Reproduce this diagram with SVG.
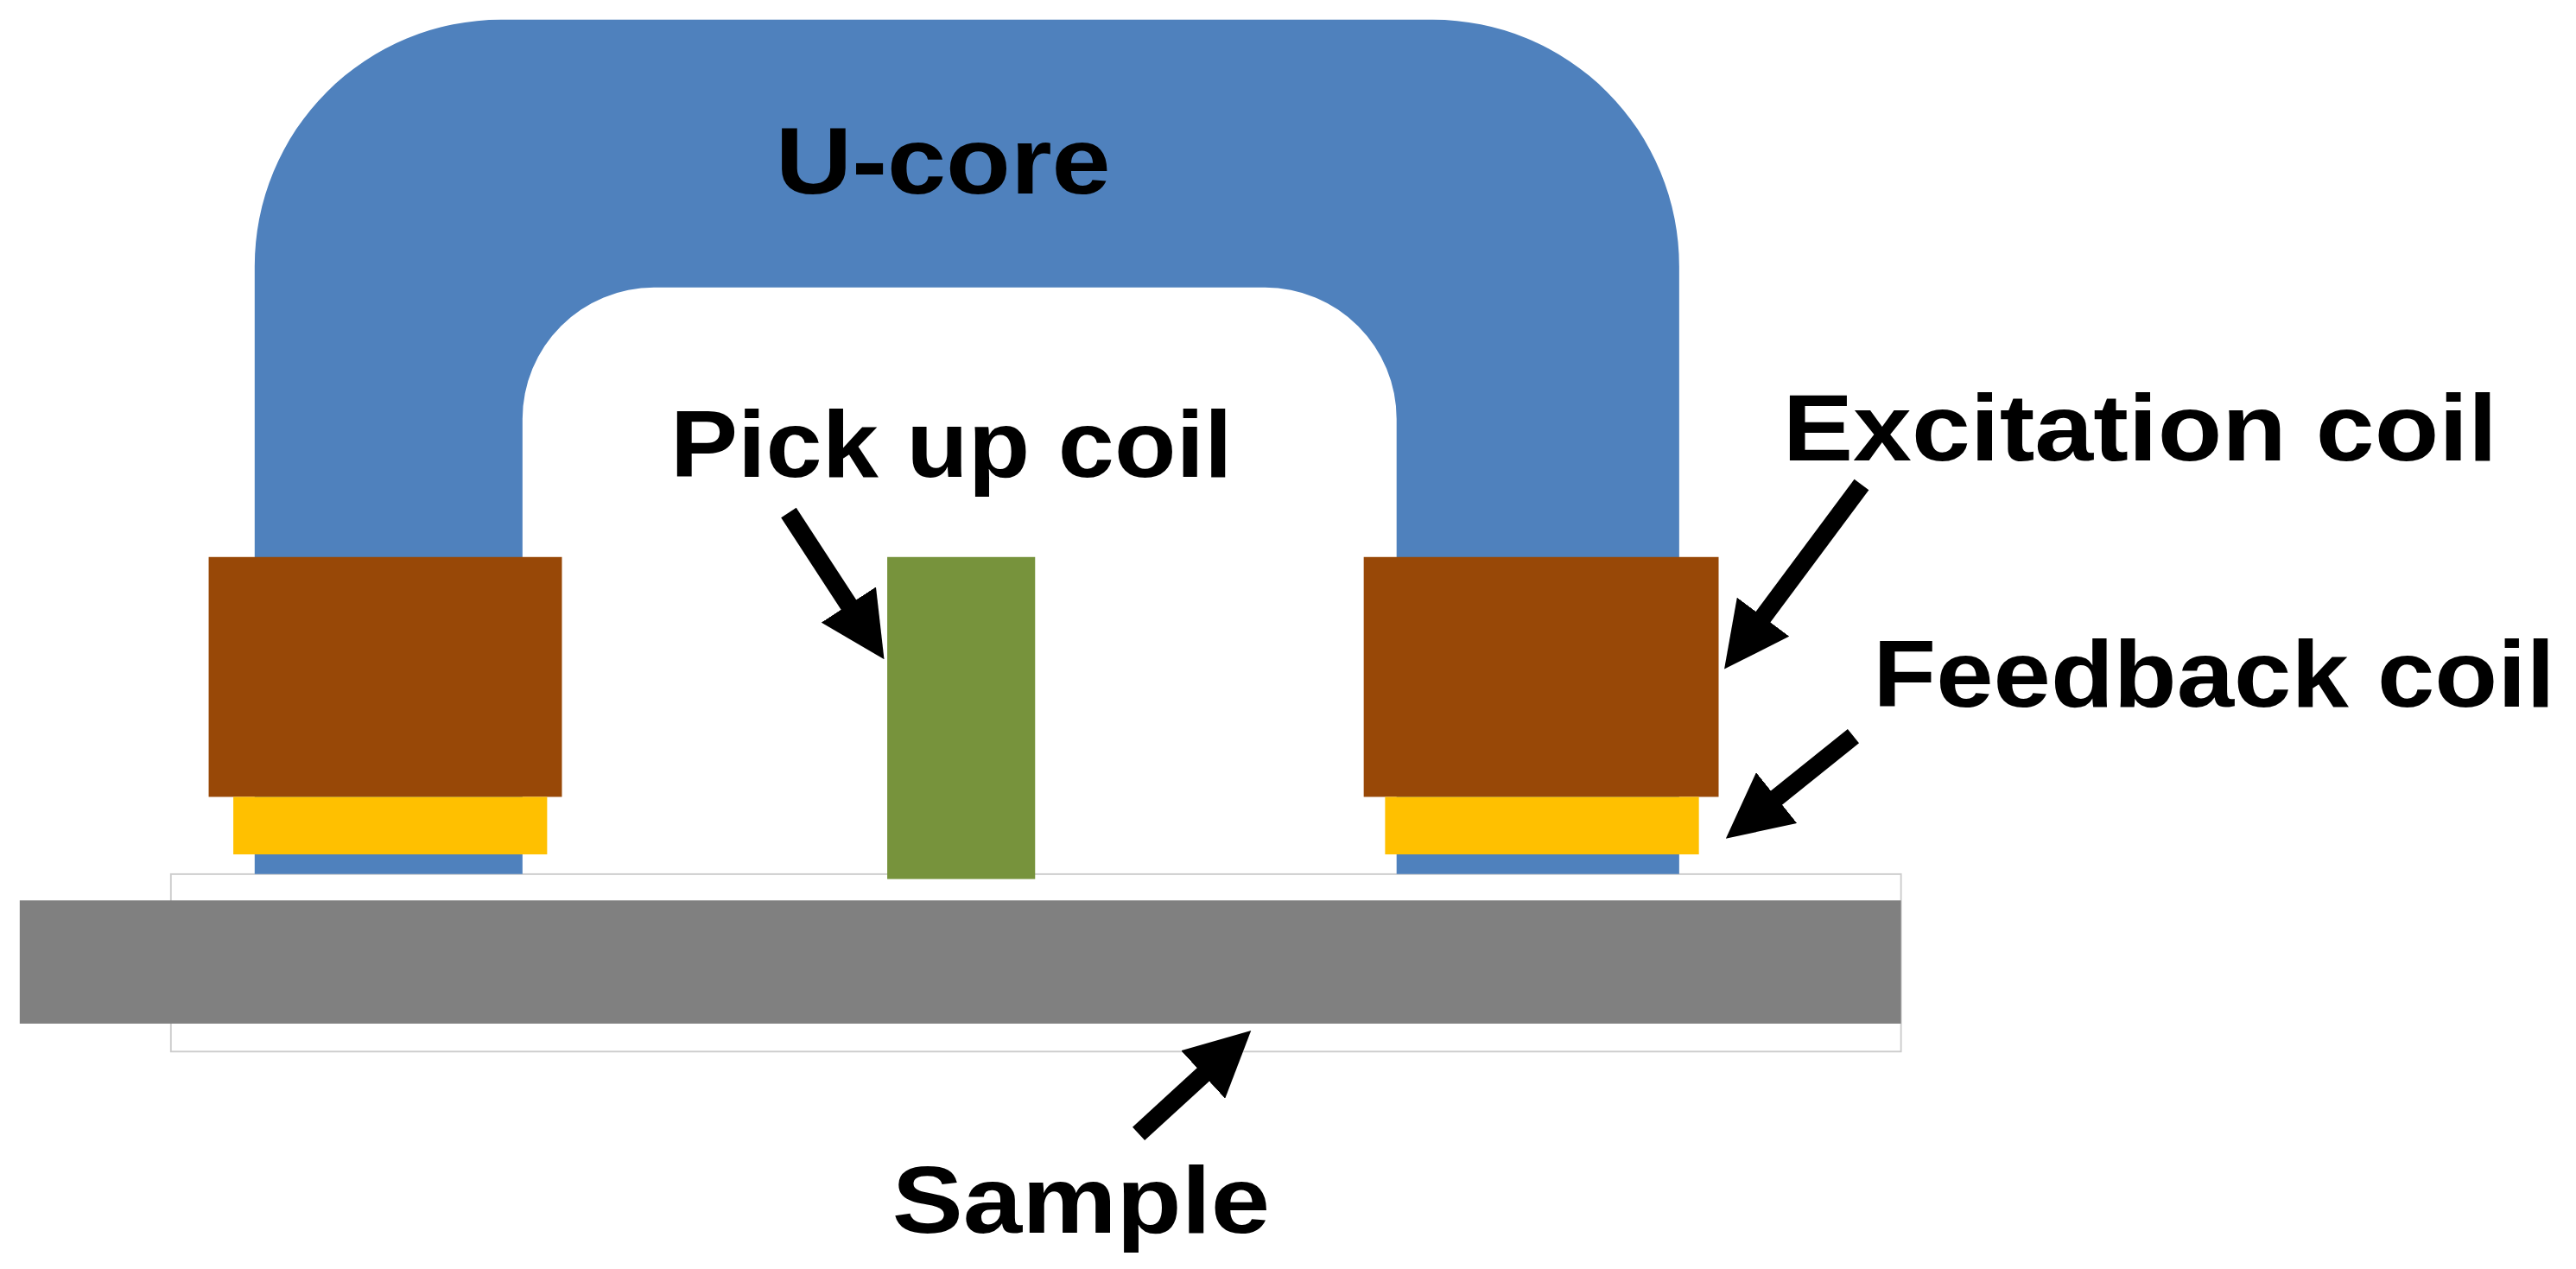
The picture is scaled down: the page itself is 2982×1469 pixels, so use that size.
<svg xmlns="http://www.w3.org/2000/svg" width="2982" height="1469" viewBox="0 0 2982 1469">
<defs>
<marker id="ah" viewBox="0 0 10 10" refX="3" refY="5" markerWidth="3.6" markerHeight="3.6" orient="auto" markerUnits="strokeWidth"><path d="M0,0 L10,5 L0,10 Z" fill="#000"/></marker>
</defs>
<style>
.t{font-family:"Liberation Sans",Arial,sans-serif;font-size:58px;font-weight:bold;fill:#000}
.a{stroke:#000;stroke-width:11;fill:none;marker-end:url(#ah)}
</style>
<rect width="2982" height="1469" fill="#fff"/>
<g transform="scale(1.902)">
<g id="sample">
<rect x="104" y="532" width="1053" height="108" fill="#fff" stroke="#ccc" stroke-width="1"/>
<rect x="12" y="548" width="1145" height="75" fill="#808080"/>
</g>
<g id="ucore">
<path d="M155,532 L155,162 A150,150 0 0 1 305,12 L872,12 A150,150 0 0 1 1022,162 L1022,532 L850,532 L850,255 A80,80 0 0 0 770,175 L398,175 A80,80 0 0 0 318,255 L318,532 Z" fill="#4f81bd"/>
</g>
<g id="left-coil">
<rect x="127" y="339" width="215" height="146" fill="#984807"/>
<rect x="142" y="485" width="191" height="35" fill="#ffc000"/>
</g>
<g id="right-coil">
<rect x="830" y="339" width="216" height="146" fill="#984807"/>
<rect x="843" y="485" width="191" height="35" fill="#ffc000"/>
</g>
<g id="pickup">
<rect x="540" y="339" width="90" height="196" fill="#77933c"/>
</g>
<g id="labels">
<text class="t" x="472" y="118" textLength="204" lengthAdjust="spacingAndGlyphs">U-core</text>
<text class="t" x="408" y="290" textLength="342" lengthAdjust="spacingAndGlyphs">Pick up coil</text>
<text class="t" x="1085" y="280" textLength="435" lengthAdjust="spacingAndGlyphs">Excitation coil</text>
<text class="t" x="1140" y="430" textLength="415" lengthAdjust="spacingAndGlyphs">Feedback coil</text>
<text class="t" x="543" y="750" textLength="230" lengthAdjust="spacingAndGlyphs">Sample</text>
</g>
<g id="connectors">
<line class="a" x1="480" y1="312" x2="523" y2="378"/>
<line class="a" x1="1133" y1="295" x2="1066" y2="385"/>
<line class="a" x1="1128" y1="448" x2="1072" y2="493"/>
<line class="a" x1="693" y1="690" x2="741" y2="646"/>
</g>
</g>
</svg>
